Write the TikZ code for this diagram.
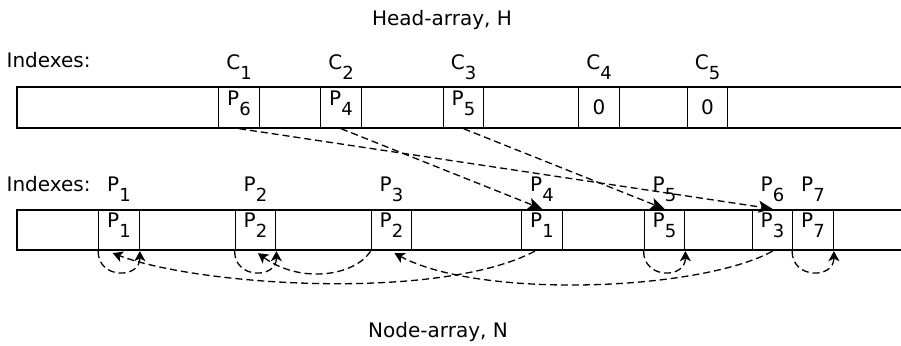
\documentclass[tikz,border=0pt]{standalone}
\usepackage{fontspec}
\setmainfont{DejaVu Sans}
\usetikzlibrary{arrows.meta,calc}
\newcommand\sbs[1]{\raisebox{-5pt}{\fontsize{9}{9}\selectfont #1}}
\begin{document}
\begin{tikzpicture}[x=0.5pt,y=-0.5pt,
  line width=0.65pt,
  cellbox/.style={draw, rectangle, inner sep=0pt, minimum width=20.25pt, minimum height=20.5pt},
  pcell/.style={cellbox, text height=7.3pt, text depth=9.8pt},
  zcell/.style={cellbox},
  lbl/.style={anchor=base, inner sep=0pt},
  toparrow/.style={dash pattern=on 3.5pt off 2pt, -{Stealth[length=7pt,width=6pt,inset=1.6pt]}},
  botarrow/.style={dash pattern=on 3.5pt off 2pt, -{Stealth[length=5pt,width=5.5pt,inset=1.3pt]}}
]
\useasboundingbox (0,0) rectangle (901,345);

% titles
\node[lbl] (hdr) at (442,25) {Head-array, H};
\node[lbl] (ftr) at (438,337) {Node-array, N};
\node[lbl, anchor=base west] (ix1) at (6,67) {Indexes:};
\node[lbl, anchor=base west] (ix2) at (6,191) {Indexes:};

% arrays
\draw (901,87) -- (17,87) -- (17,128) -- (901,128);
\draw (901,210) -- (17,210) -- (17,250) -- (901,250);

% head cells
\node[pcell] (C1) at (239,107.5) {P\sbs{6}};
\node[pcell] (C2) at (341,107.5) {P\sbs{4}};
\node[pcell] (C3) at (463.5,107.5) {P\sbs{5}};
\node[zcell] (C4) at (599,107.5) {0};
\node[zcell] (C5) at (707.5,107.5) {0};

\node[lbl] (lC1) at (239,69) {C\sbs{1}};
\node[lbl] (lC2) at (341,69) {C\sbs{2}};
\node[lbl] (lC3) at (463.5,69) {C\sbs{3}};
\node[lbl] (lC4) at (599,69) {C\sbs{4}};
\node[lbl] (lC5) at (707.5,69) {C\sbs{5}};

% node cells
\node[pcell] (P1) at (119,230) {P\sbs{1}};
\node[pcell] (P2) at (255.5,230) {P\sbs{2}};
\node[pcell] (P3) at (391.5,230) {P\sbs{2}};
\node[pcell] (P4) at (542,230) {P\sbs{1}};
\node[pcell] (P5) at (664.5,230) {P\sbs{5}};
\node[pcell] (P6) at (772.5,230) {P\sbs{3}};
\node[pcell] (P7) at (813,230) {P\sbs{7}};

\node[lbl] (lP1) at (119,191) {P\sbs{1}};
\node[lbl] (lP2) at (255.5,191) {P\sbs{2}};
\node[lbl] (lP3) at (391.5,191) {P\sbs{3}};
\node[lbl] (lP4) at (542,191) {P\sbs{4}};
\node[lbl] (lP5) at (664.5,191) {P\sbs{5}};
\node[lbl] (lP6) at (772.5,191) {P\sbs{6}};
\node[lbl] (lP7) at (813,191) {P\sbs{7}};

% head pointers
\draw[toparrow] (C1.south) -- (P6.north);
\draw[toparrow] (C2.south) -- (P4.north);
\draw[toparrow] (C3.south) -- (P5.north);

% self loops
\draw[botarrow] (P1.south west) .. controls +(0,28) and +(0,28) .. (P1.south east);
\draw[botarrow] (P2.south west) .. controls +(0,28) and +(0,28) .. (P2.south east);
\draw[botarrow] (P5.south west) .. controls +(0,28) and +(0,28) .. (P5.south east);
\draw[botarrow] (P7.south west) .. controls +(0,28) and +(0,28) .. (P7.south east);

% next pointers
\draw[botarrow] ($(P4.south west)!0.33!(P4.south east)$) .. controls +(-95,50) and +(87,33) .. ($(P1.south west)!0.35!(P1.south east)+(0,2)$);
\draw[botarrow] (P6.south) .. controls +(-73,40) and +(85,46) .. ($(P3.south)+(3,2)$);
\draw[botarrow] (P3.south west) .. controls +(-16,25) and +(42,31) .. ($(P2.south)+(2.5,2)$);
\end{tikzpicture}
\end{document}
